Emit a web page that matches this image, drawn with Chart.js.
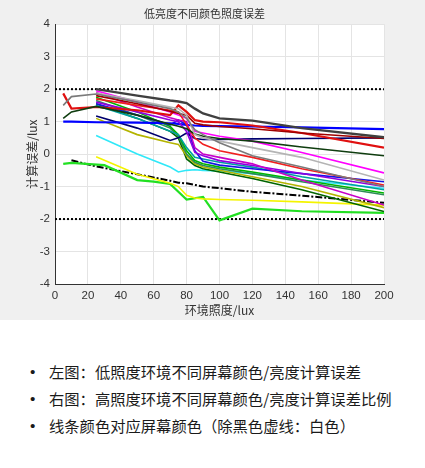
<!DOCTYPE html>
<html>
<head>
<meta charset="utf-8">
<script src="https://cdn.jsdelivr.net/npm/chart.js@4"></script>
<style>
  html, body { margin: 0; padding: 0; background: #fff; }
  body { width: 425px; height: 468px; overflow: hidden; font-family: "Noto Sans CJK SC", "Noto Sans", sans-serif; }
  #figure { width: 425px; height: 320px; background: #f0f0f0; position: relative; }
  ul { list-style: none; margin: 38px 0 0 0; padding: 0 0 0 49px; }
  li { position: relative; font-size: 15.3px; line-height: 27px; color: #1a1a1a; white-space: nowrap; }
  li::before { content: "\2022"; position: absolute; left: -19px; font-family: "Liberation Sans", sans-serif; }
</style>
</head>
<body>
<div id="figure"><canvas id="errChart" width="425" height="320"></canvas></div>
<ul>
  <li>左图：低照度环境不同屏幕颜色/亮度计算误差</li>
  <li>右图：高照度环境不同屏幕颜色/亮度计算误差比例</li>
  <li>线条颜色对应屏幕颜色（除黑色虚线：白色）</li>
</ul>
<script>
const _ = null;

// ambient illuminance sample points (lux)
const XS = [5, 10, 25, 30, 50, 60, 70, 75, 80, 85, 90, 100, 120, 150, 200];

// error per screen colour (lux), same order as XS
const darkGray   = [_, _, 2.00, _, 1.80, _, 1.65, 1.62, 1.57, 1.40, 1.25, 1.10, 1.03, 0.80, 0.52];
const gray       = [1.50, 1.77, 1.85, _, 1.60, _, 1.40, 1.30, 1.10, 0.75, 0.60, 0.35, -0.05, -0.40, -1.00];
const darkGreen  = [1.10, 1.30, 1.47, _, 1.20, _, 0.92, 0.86, 0.78, 0.62, 0.55, 0.48, 0.40, 0.22, -0.05];
const red        = [1.87, 1.40, 1.45, _, 1.35, _, 1.20, 1.50, 1.30, 1.05, 1.00, 0.98, 0.88, 0.65, 0.20];
const blue       = [1.00, 1.00, 0.98, _, 0.97, _, 0.95, 0.93, 0.90, 0.88, 0.87, 0.86, 0.85, 0.82, 0.77];
const navy       = [_, _, 1.17, _, 0.80, _, 0.42, 0.50, 0.65, 0.48, 0.45, 0.45, 0.47, 0.48, 0.50];
const darkRed    = [_, _, 1.80, _, 1.55, _, 1.32, 1.25, 1.20, 0.95, 0.90, 0.85, 0.78, 0.65, 0.48];
const red2       = [_, _, 1.70, _, 1.50, _, 1.35, 1.30, 0.90, 0.50, 0.30, 0.10, -0.10, -0.45, -0.95];
const magenta    = [_, _, 1.95, _, 1.60, _, 1.30, 1.20, 1.10, 0.70, 0.65, 0.55, 0.40, 0.05, -0.58];
const violet     = [_, _, 1.90, _, 1.45, _, 1.12, 1.05, 1.00, 0.20, 0.00, -0.10, -0.30, -0.80, -1.57];
const silver     = [_, _, 1.88, _, 1.65, _, 1.45, 1.40, 1.20, 0.60, 0.50, 0.40, 0.20, -0.10, -0.80];
const blue2      = [_, _, 1.55, _, 1.20, _, 0.90, 1.05, 0.90, 0.10, -0.22, -0.34, -0.45, -0.60, -0.85];
const purple     = [_, _, 1.60, _, 1.30, _, 1.05, 1.00, 0.70, 0.05, -0.05, -0.20, -0.35, -0.60, -1.00];
const teal       = [_, _, 1.50, _, 1.10, _, 0.70, 0.60, 0.20, -0.10, -0.15, -0.25, -0.40, -0.70, -1.10];
const green2     = [_, _, 1.75, _, 1.30, _, 0.85, 0.60, 0.10, -0.20, -0.30, -0.40, -0.55, -0.80, -1.20];
const seaGreen   = [_, _, 1.65, _, 1.20, _, 0.80, 0.55, 0.00, -0.25, -0.35, -0.45, -0.60, -0.85, -1.25];
const olive      = [_, _, 1.10, _, 0.60, _, 0.35, 0.30, -0.05, -0.30, -0.40, -0.50, -0.70, -1.00, -1.65];
const darkGreen2 = [_, _, 1.55, _, 1.10, _, 0.70, 0.50, -0.15, -0.35, -0.45, -0.55, -0.75, -1.10, -1.77];
const cyan       = [_, _, 0.57, _, 0.00, _, -0.40, -0.55, -0.50, -0.48, -0.50, -0.52, -0.60, -0.80, -1.05];
const yellow     = [_, _, -0.08, _, -0.62, _, -0.90, -1.00, -1.27, -1.35, -1.38, -1.40, -1.42, -1.47, -1.57];
const white      = [_, -0.19, -0.38, _, -0.62, _, -0.82, -0.88, -0.90, -0.95, -1.00, -1.05, -1.16, -1.28, -1.50];
const green      = [-0.30, -0.27, _, -0.34, -0.80, -0.85, -0.92, _, -1.40, _, -1.32, -2.04, -1.68, -1.76, -1.81];

// accepted error band
const LIMIT_X = [0, 200];
const LIMITS = [2, -2];

const X_TICKS = [0, 20, 40, 60, 80, 100, 120, 140, 160, 180, 200];
const Y_TICKS = [-4, -3, -2, -1, 0, 1, 2, 3, 4];

const series = [
  { data: darkGray,   color: '#404040', width: 2.4 },
  { data: gray,       color: '#7a7a7a' },
  { data: silver,     color: '#b4b4b4' },
  { data: darkGreen,  color: '#0f3d0f' },
  { data: darkRed,    color: '#a00000' },
  { data: red,        color: '#e01010', width: 2.2 },
  { data: red2,       color: '#f02020' },
  { data: magenta,    color: '#ff00ff' },
  { data: violet,     color: '#c800c8' },
  { data: purple,     color: '#9000e0' },
  { data: blue,       color: '#0000ff', width: 2.2 },
  { data: navy,       color: '#00006e' },
  { data: blue2,      color: '#1414e6' },
  { data: teal,       color: '#00a0a0' },
  { data: green2,     color: '#00b400' },
  { data: seaGreen,   color: '#2e8b57' },
  { data: olive,      color: '#b4b400' },
  { data: darkGreen2, color: '#006400' },
  { data: cyan,       color: '#30e8f8' },
  { data: yellow,     color: '#f4f400' },
  { data: green,      color: '#22e022', width: 2.2 }
];

function toPoints(ys) {
  return XS.map((x, i) => ({ x: x, y: ys[i] })).filter(p => p.y !== null);
}

const datasets = series.map(s => ({
  data: toPoints(s.data),
  borderColor: s.color,
  borderWidth: s.width || 1.6,
  pointRadius: 0,
  tension: 0,
  fill: false
}));

// white screen shown as black dash-dot
datasets.push({
  data: toPoints(white),
  borderColor: '#000',
  borderWidth: 2,
  borderDash: [7, 2, 2, 2],
  pointRadius: 0,
  fill: false
});

LIMITS.forEach(v => {
  datasets.push({
    data: LIMIT_X.map(x => ({ x: x, y: v })),
    borderColor: '#000',
    borderWidth: 2,
    borderDash: [2, 2],
    pointRadius: 0,
    fill: false
  });
});

// white plot area on grey figure
const plotBg = {
  id: 'plotBg',
  beforeDraw(chart) {
    const a = chart.chartArea;
    const ctx = chart.ctx;
    ctx.save();
    ctx.fillStyle = '#fff';
    ctx.fillRect(a.left, a.top, a.right - a.left, a.bottom - a.top);
    ctx.restore();
  }
};

const cjk = '"Noto Sans CJK SC", "Liberation Sans", sans-serif';
const tickFont = { family: '"Liberation Sans", sans-serif', size: 11.5 };

new Chart(document.getElementById('errChart').getContext('2d'), {
  type: 'line',
  data: { datasets: datasets },
  plugins: [plotBg],
  options: {
    responsive: false,
    animation: false,
    layout: { padding: { left: 25, right: 41, top: 0, bottom: 0 } },
    plugins: {
      legend: { display: false },
      tooltip: { enabled: false },
      title: {
        display: true,
        text: '低亮度不同颜色照度误差',
        color: '#333',
        font: { family: cjk, size: 11, weight: 'normal' },
        padding: { top: 7, bottom: 4 }
      }
    },
    scales: {
      x: {
        type: 'linear',
        min: 0,
        max: 200,
        afterBuildTicks: scale => { scale.ticks = X_TICKS.map(v => ({ value: v })); },
        afterFit: scale => { scale.height = 36; },
        grid: { color: '#e4e4e4', drawTicks: false },
        border: { display: true, color: '#333', width: 1 },
        ticks: { color: '#333', font: tickFont, padding: 5, maxRotation: 0 },
        title: {
          display: true,
          text: '环境照度/lux',
          color: '#333',
          font: { family: cjk, size: 12 },
          padding: { top: 0, bottom: 2 }
        }
      },
      y: {
        min: -4,
        max: 4,
        afterBuildTicks: scale => { scale.ticks = Y_TICKS.map(v => ({ value: v })); },
        afterFit: scale => { scale.width = 30; },
        grid: { color: '#e4e4e4', drawTicks: false },
        border: { display: true, color: '#333', width: 1 },
        ticks: { color: '#333', font: tickFont, padding: 5 },
        title: {
          display: true,
          text: '计算误差/lux',
          color: '#333',
          font: { family: cjk, size: 12 },
          padding: { top: 0, bottom: 0 }
        }
      }
    }
  }
});
</script>
</body>
</html>
